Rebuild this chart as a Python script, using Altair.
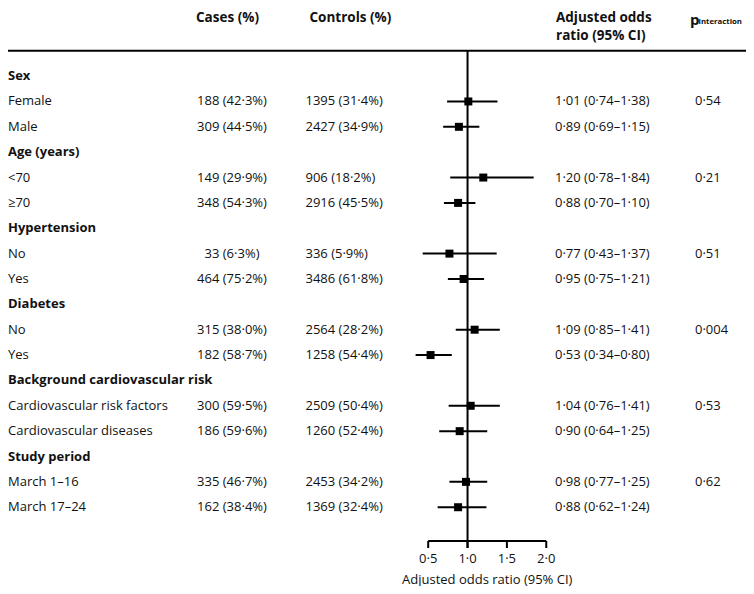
import altair as alt
import pandas as pd

# ---------------- data ----------------
labels = ["Sex", "Female", "Male", "Age (years)", "<70", "≥70", "Hypertension", "No", "Yes",
          "Diabetes", "No", "Yes", "Background cardiovascular risk", "Cardiovascular risk factors",
          "Cardiovascular diseases", "Study period", "March 1–16", "March 17–24"]
is_group = [True, False, False, True, False, False, True, False, False,
            True, False, False, True, False, False, True, False, False]
cases = ["", "188 (42·3%)", "309 (44·5%)", "", "149 (29·9%)", "348 (54·3%)", "", "33 (6·3%)", "464 (75·2%)",
         "", "315 (38·0%)", "182 (58·7%)", "", "300 (59·5%)", "186 (59·6%)", "", "335 (46·7%)", "162 (38·4%)"]
controls = ["", "1395 (31·4%)", "2427 (34·9%)", "", "906 (18·2%)", "2916 (45·5%)", "", "336 (5·9%)", "3486 (61·8%)",
            "", "2564 (28·2%)", "1258 (54·4%)", "", "2509 (50·4%)", "1260 (52·4%)", "", "2453 (34·2%)", "1369 (32·4%)"]
odds = [None, 1.01, 0.89, None, 1.20, 0.88, None, 0.77, 0.95, None, 1.09, 0.53, None, 1.04, 0.90, None, 0.98, 0.88]
lower = [None, 0.74, 0.69, None, 0.78, 0.70, None, 0.43, 0.75, None, 0.85, 0.34, None, 0.76, 0.64, None, 0.77, 0.62]
upper = [None, 1.38, 1.15, None, 1.84, 1.10, None, 1.37, 1.21, None, 1.41, 0.80, None, 1.41, 1.25, None, 1.25, 1.24]
p_values = ["", "0·54", "", "", "0·21", "", "", "0·51", "", "", "0·004", "", "", "0·53", "", "", "0·62", ""]
tick_values = [0.5, 1.0, 1.5, 2.0]
tick_labels = ["0·5", "1·0", "1·5", "2·0"]
reference_value = [1.0]
axis_title_text = ["Adjusted odds ratio (95% CI)"]
header_cases = ["Cases (%)"]
header_controls = ["Controls (%)"]
header_or = ["Adjusted odds", "ratio (95% CI)"]
header_p = ["p", "interaction"]

# ---------------- tables ----------------
rows = pd.DataFrame({
    "row": list(range(len(labels))),
    "label": labels,
    "group": is_group,
    "cases": cases,
    "controls": controls,
    "or": odds,
    "lo": lower,
    "hi": upper,
    "p": p_values,
})


def fmt(o, l, u):
    if o is None or pd.isna(o):
        return ""
    return f"{o:.2f} ({l:.2f}–{u:.2f})".replace(".", "·")


rows["ortext"] = [fmt(o, l, u) for o, l, u in zip(odds, lower, upper)]
groups = rows[rows["group"]].reset_index(drop=True)
items = rows[~rows["group"]].reset_index(drop=True)
ticks = pd.DataFrame({"v": tick_values, "t": tick_labels})
ref_df = pd.DataFrame({"v": reference_value})
axis_df = pd.DataFrame({"a": [min(tick_values)], "b": [max(tick_values)]})
title_df = pd.DataFrame({"v": [(min(tick_values) + max(tick_values)) / 2], "t": axis_title_text})

# ---------------- layout ----------------
W, H = 738, 578
FONT = "Open Sans"
FS = 13
HFS = 13.5
INK = "#111111"

xs = alt.Scale(domain=[-4.839, 4.538], nice=False, zero=False)
ys = alt.Scale(domain=[-2.685, 20.106], reverse=True, nice=False, zero=False)
Y = alt.Y("row:Q", scale=ys, axis=None)

y_rule = 42.8
y_axis = 533.0
y_tick_end = 540.0


def txt(**kw):
    base = dict(font=FONT, fontSize=FS, color=INK, baseline="middle")
    base.update(kw)
    return base


def label_chart(values, x, y, **kw):
    df = pd.DataFrame({"t": values})
    return alt.Chart(df).mark_text(**txt(**kw)).encode(
        x=alt.value(x), y=alt.value(y), text="t:N")


group_labels = alt.Chart(groups).mark_text(**txt(align="left", fontWeight="bold")).encode(
    x=alt.value(0), y=Y, text="label:N")
item_labels = alt.Chart(items).mark_text(**txt(align="left")).encode(
    x=alt.value(0), y=Y, text="label:N")
cases_text = alt.Chart(items).mark_text(**txt(align="center")).encode(
    x=alt.value(224), y=Y, text="cases:N")
controls_text = alt.Chart(items).mark_text(**txt(align="left")).encode(
    x=alt.value(297.5), y=Y, text="controls:N")
or_text = alt.Chart(items).mark_text(**txt(align="left")).encode(
    x=alt.value(547), y=Y, text="ortext:N")
p_text = alt.Chart(items).mark_text(**txt(align="left")).encode(
    x=alt.value(687), y=Y, text="p:N")

ci = alt.Chart(items).mark_rule(color="#000", strokeWidth=2).encode(
    x=alt.X("lo:Q", scale=xs, axis=None), x2="hi:Q", y=Y)
squares = alt.Chart(items).mark_square(color="#000", opacity=1, size=64).encode(
    x=alt.X("or:Q", scale=xs, axis=None), y=Y)

ref_line = alt.Chart(ref_df).mark_rule(color="#000", strokeWidth=2).encode(
    x=alt.X("v:Q", scale=xs, axis=None), y=alt.value(y_rule), y2=alt.value(y_tick_end))
top_rule = alt.Chart(ref_df).mark_rule(color="#000", strokeWidth=2).encode(
    x=alt.value(0), x2=alt.value(W), y=alt.value(y_rule))
axis_line = alt.Chart(axis_df).mark_rule(color="#000", strokeWidth=2).encode(
    x=alt.X("a:Q", scale=xs, axis=None), x2="b:Q", y=alt.value(y_axis))
axis_ticks = alt.Chart(ticks).mark_rule(color="#000", strokeWidth=2).encode(
    x=alt.X("v:Q", scale=xs, axis=None), y=alt.value(y_axis), y2=alt.value(y_tick_end))
tick_text = alt.Chart(ticks).mark_text(**txt(align="center")).encode(
    x=alt.X("v:Q", scale=xs, axis=None), y=alt.value(550.5), text="t:N")
axis_title = alt.Chart(title_df).mark_text(**txt(align="center")).encode(
    x=alt.X("v:Q", scale=xs, axis=None), y=alt.value(571.5), text="t:N")

h_cases = label_chart(header_cases, 188, 9.5, align="left", fontWeight="bold", fontSize=HFS)
h_controls = label_chart(header_controls, 301.5, 9.5, align="left", fontWeight="bold", fontSize=HFS)
h_or1 = label_chart(header_or[:1], 548, 9.5, align="left", fontWeight="bold", fontSize=HFS)
h_or2 = label_chart(header_or[1:], 548, 27.5, align="left", fontWeight="bold", fontSize=HFS)
h_p = label_chart(header_p[:1], 682, 16.5, align="left", fontWeight="bold",
                  fontSize=15, baseline="alphabetic")
h_pi = label_chart(header_p[1:], 690.5, 16.3, align="left", fontWeight="bold",
                   fontSize=7.8, baseline="alphabetic")

chart = alt.layer(
    top_rule, ref_line, axis_line, axis_ticks, ci, squares,
    group_labels, item_labels, cases_text, controls_text, or_text, p_text,
    tick_text, axis_title, h_cases, h_controls, h_or1, h_or2, h_p, h_pi,
).properties(
    width=W, height=H, padding=0, autosize=alt.AutoSizeParams(type="none"),
    background="white",
).configure_view(stroke=None)

chart.save("out.html", embed_options={"renderer": "svg", "actions": False})
